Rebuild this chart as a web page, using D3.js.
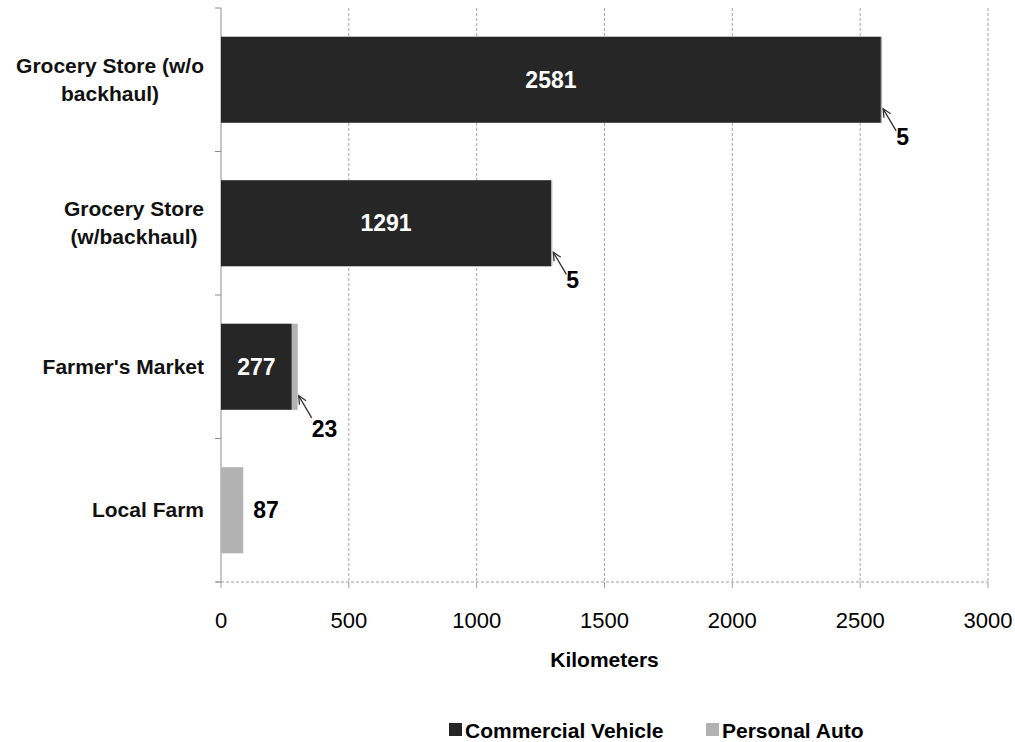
<!DOCTYPE html>
<html>
<head>
<meta charset="utf-8">
<script src="https://cdn.jsdelivr.net/npm/d3@7"></script>
<style>
  body { margin: 0; background: #fff; }
  text { font-family: "Liberation Sans", Arial, sans-serif; }
</style>
</head>
<body>
<svg id="chart" width="1015" height="742"></svg>
<script>
// data
const categories = [["Grocery Store (w/o", "backhaul)"], ["Grocery Store", "(w/backhaul)"], ["Farmer's Market"], ["Local Farm"]];
const commercial = [2581, 1291, 277, 0];
const personal = [5, 5, 23, 87];
const xTicks = [0, 500, 1000, 1500, 2000, 2500, 3000];
const seriesNames = ["Commercial Vehicle", "Personal Auto"];
const colors = ["#262626", "#b2b2b2"];

const margin = { top: 8, left: 221 };

const svg = d3.select("#chart");
const g = svg.append("g").attr("transform", "translate(" + margin.left + "," + margin.top + ")");

const x = d3.scaleLinear().domain([0, 3000]).range([0, 767]);
const y = d3.scaleBand().domain(d3.range(categories.length)).range([0, 574])
    .paddingInner(0.4).paddingOuter(0.2);
const step = y.step();

// vertical dashed grid
g.selectAll(".grid")
    .data(xTicks.slice(1))
    .enter().append("line")
    .attr("x1", d => x(d)).attr("x2", d => x(d))
    .attr("y1", 0).attr("y2", 574)
    .attr("stroke", "#a6a6a6").attr("stroke-dasharray", "3,2");

// bottom dashed axis line + small ticks
g.append("line").attr("x1", -5).attr("x2", x(3000)).attr("y1", 574).attr("y2", 574)
    .attr("stroke", "#a0a0a0").attr("stroke-dasharray", "3,2");
g.selectAll(".xt").data(xTicks).enter().append("line")
    .attr("x1", d => x(d)).attr("x2", d => x(d)).attr("y1", 574).attr("y2", 580)
    .attr("stroke", "#a0a0a0");

// y axis
g.append("line").attr("x1", 0).attr("x2", 0).attr("y1", 0).attr("y2", 574).attr("stroke", "#8c8c8c");
g.selectAll(".yt").data(d3.range(categories.length + 1)).enter().append("line")
    .attr("x1", -6).attr("x2", 0).attr("y1", d => d * step).attr("y2", d => d * step)
    .attr("stroke", "#8c8c8c");

// tick labels
g.selectAll(".xl").data(xTicks).enter().append("text")
    .attr("x", d => x(d)).attr("y", 620)
    .attr("text-anchor", "middle").attr("font-size", 22).attr("fill", "#000")
    .text(d => d);

g.append("text").attr("x", x(1500)).attr("y", 659).attr("text-anchor", "middle")
    .attr("font-size", 21).attr("font-weight", "bold").text("Kilometers");

// category labels: block right-aligned to the axis, lines centred within it
categories.forEach((lines, i) => {
    const cy = y(i) + y.bandwidth() / 2;
    const t = g.append("text").attr("font-size", 21)
        .attr("font-weight", "bold").attr("fill", "#111");
    const spans = lines.map((ln, j) => t.append("tspan")
        .attr("y", cy + 7 + (j - (lines.length - 1) / 2) * 28)
        .text(ln));
    const widths = spans.map(s => s.node().getComputedTextLength());
    const maxW = d3.max(widths);
    spans.forEach((s, j) => s.attr("x", -17 - maxW / 2 - widths[j] / 2));
});

// bars
g.selectAll(".bc").data(commercial).enter().append("rect")
    .attr("x", 0).attr("y", (d, i) => y(i))
    .attr("width", d => x(d)).attr("height", y.bandwidth())
    .attr("fill", colors[0]);
g.selectAll(".bp").data(personal).enter().append("rect")
    .attr("x", (d, i) => x(commercial[i])).attr("y", (d, i) => y(i))
    .attr("width", d => x(d)).attr("height", y.bandwidth())
    .attr("fill", colors[1]);

// commercial labels inside
g.selectAll(".lc").data(commercial.filter(d => d > 0)).enter().append("text")
    .attr("x", d => x(d) / 2).attr("y", (d, i) => y(i) + y.bandwidth() / 2 + 8)
    .attr("text-anchor", "middle").attr("font-size", 23).attr("font-weight", "bold")
    .attr("fill", "#fff").text(d => d);

// personal labels (with pointer arrows where the bar is thin)
personal.forEach((d, i) => {
    const end = x(commercial[i] + d);
    const bottom = y(i) + y.bandwidth();
    if (commercial[i] > 0) {
        const tipX = end + 1, tipY = bottom - 14;
        const tx = tipX + 13, ty = tipY + 22;
        g.append("line").attr("x1", tx).attr("y1", ty).attr("x2", tipX).attr("y2", tipY)
            .attr("stroke", "#333").attr("stroke-width", 1.3);
        // arrowhead
        const ang = Math.atan2(ty - tipY, tx - tipX);
        const hl = 9, spread = 0.45;
        const p = [
            [tipX + hl * Math.cos(ang - spread), tipY + hl * Math.sin(ang - spread)],
            [tipX, tipY],
            [tipX + hl * Math.cos(ang + spread), tipY + hl * Math.sin(ang + spread)]
        ];
        g.append("path").attr("d", d3.line()(p)).attr("fill", "none")
            .attr("stroke", "#333").attr("stroke-width", 1.3);
        g.append("text").attr("x", tipX + 13).attr("y", tipY + 36 + (i === 2 ? 5 : 0))
            .attr("font-size", 23).attr("font-weight", "bold").text(d);
    } else {
        g.append("text").attr("x", end + 10).attr("y", y(i) + y.bandwidth() / 2 + 8)
            .attr("font-size", 23).attr("font-weight", "bold").text(d);
    }
});

// legend
const legend = svg.append("g").attr("transform", "translate(0,730)");
const legX = [449, 706];
seriesNames.forEach((name, i) => {
    legend.append("rect").attr("x", legX[i]).attr("y", -7).attr("width", 13).attr("height", 13).attr("fill", colors[i]);
    legend.append("text").attr("x", legX[i] + 16).attr("y", 7.5).attr("font-size", 21)
        .attr("font-weight", "bold").text(name);
});
</script>
</body>
</html>
